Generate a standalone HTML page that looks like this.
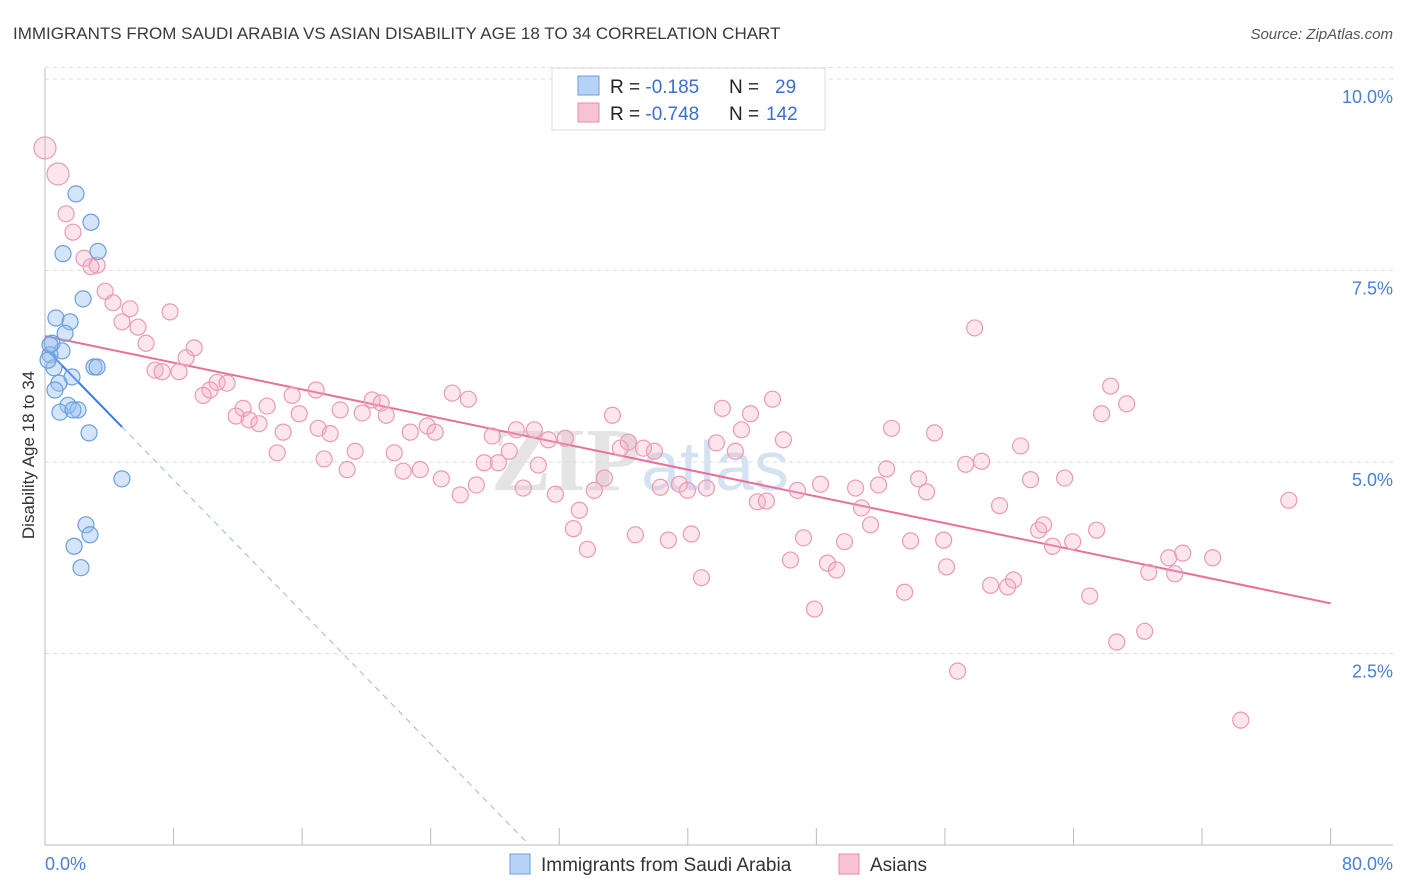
<!DOCTYPE html>
<html><head><meta charset="utf-8"><style>
body{margin:0;background:#fff;font-family:"Liberation Sans",sans-serif}
svg{display:block}
</style></head><body>
<svg id="chart" width="1406" height="892">
<text x="13" y="39" font-size="17" fill="#3a3a3a">IMMIGRANTS FROM SAUDI ARABIA VS ASIAN DISABILITY AGE 18 TO 34 CORRELATION CHART</text>
<text x="1393" y="39" font-size="15" fill="#555" font-style="italic" text-anchor="end">Source: ZipAtlas.com</text>
<text x="640" y="490" font-size="90" fill="#e4e4e4" font-family="Liberation Serif" font-weight="bold" text-anchor="middle">ZIP<tspan font-family="Liberation Sans" font-weight="normal" fill="#d4e2f2" font-size="70">atlas</tspan></text>
<g id="grid"></g><g id="axes"></g><g id="lines"></g><g id="pts"></g>
<text transform="translate(34,455) rotate(-90)" font-size="17" fill="#333" text-anchor="middle">Disability Age 18 to 34</text>
<text x="45" y="870" font-size="18" fill="#4a7fd4">0.0%</text>
<text x="1393" y="870" font-size="18" fill="#4a7fd4" text-anchor="end">80.0%</text>
<g>
<rect x="552" y="68" width="273" height="62" fill="#fff" stroke="#ddd"/>
<rect x="578" y="76" width="21" height="19" fill="#b6d2f4" stroke="#6a9fdc"/>
<rect x="578" y="103" width="21" height="19" fill="#f8c4d4" stroke="#e88aa8"/>
<text x="610" y="93" font-size="19" fill="#222">R = <tspan fill="#3a6fd0">-0.185</tspan><tspan x="729">N = </tspan><tspan x="775" fill="#3a6fd0">29</tspan></text>
<text x="610" y="120" font-size="19" fill="#222">R = <tspan fill="#3a6fd0">-0.748</tspan><tspan x="729">N = </tspan><tspan x="766" fill="#3a6fd0">142</tspan></text>
</g>
<g>
<rect x="510" y="854" width="20" height="20" fill="#b6d2f4" stroke="#6a9fdc"/>
<text x="541" y="871" font-size="19" fill="#333">Immigrants from Saudi Arabia</text>
<rect x="839" y="854" width="20" height="20" fill="#f8c4d4" stroke="#e88aa8"/>
<text x="870" y="871" font-size="19" fill="#333">Asians</text>
</g>
</svg>
<script>
const yTicks=[2.5,5.0,7.5,10.0];
const yTickLabels=["2.5%","5.0%","7.5%","10.0%"];
const xTicks=[0,8,16,24,32,40,48,56,64,72,80];
const blueX=[1.93,2.86,1.12,3.30,2.37,0.68,1.56,1.25,0.44,1.06,0.31,0.56,3.05,3.24,1.68,0.87,0.62,1.43,2.05,0.93,1.74,2.74,4.79,2.55,2.80,1.81,2.24,0.31,0.19];
const blueY=[8.50,8.13,7.72,7.75,7.13,6.88,6.83,6.68,6.55,6.45,6.40,6.23,6.24,6.24,6.11,6.03,5.94,5.74,5.68,5.65,5.68,5.38,4.78,4.18,4.05,3.90,3.62,6.53,6.33];
const pinkX=[0,0.81,1.31,1.74,2.43,3.24,2.86,3.74,4.23,5.29,7.78,4.79,5.79,6.29,9.28,8.78,6.85,7.29,8.34,10.71,11.33,10.27,9.84,15.38,16.87,20.36,20.92,25.34,26.34,12.33,13.82,11.89,12.70,13.32,15.82,18.37,19.74,21.23,17.00,14.82,17.75,22.73,23.79,24.28,27.83,29.33,30.45,31.32,32.38,35.31,42.15,43.90,45.27,43.34,14.45,17.37,19.30,18.80,21.73,22.29,23.35,24.66,25.84,26.84,27.33,28.21,28.89,29.76,30.70,31.76,33.25,32.88,33.75,34.18,34.81,35.80,36.30,37.24,37.92,36.74,38.79,40.22,38.29,39.48,39.98,41.16,41.78,42.96,40.85,44.33,44.89,45.95,46.82,47.20,46.39,47.88,48.69,49.25,49.75,48.26,50.44,50.81,51.37,51.87,52.37,52.68,53.49,53.86,54.36,54.86,55.35,55.92,56.10,56.79,57.29,58.28,57.85,58.84,59.40,59.90,60.27,60.71,61.33,61.83,62.14,62.70,63.45,63.95,65.01,65.44,65.75,66.31,67.31,66.69,68.43,68.68,69.93,70.30,70.80,72.66,74.41,77.40];
const pinkY=[9.10,8.76,8.24,8.00,7.66,7.57,7.55,7.23,7.08,7.00,6.96,6.83,6.76,6.55,6.49,6.36,6.20,6.18,6.18,6.04,6.03,5.94,5.87,5.87,5.94,5.81,5.77,5.90,5.82,5.70,5.73,5.60,5.55,5.50,5.63,5.68,5.64,5.61,5.44,5.39,5.37,5.39,5.47,5.39,5.34,5.42,5.42,5.29,5.31,5.61,5.70,5.63,5.82,5.42,5.12,5.04,5.14,4.90,5.12,4.88,4.90,4.78,4.57,4.70,4.99,4.99,5.14,4.66,4.96,4.58,4.37,4.13,3.86,4.63,4.79,5.18,5.26,5.18,5.14,4.05,3.98,4.06,4.67,4.71,4.63,4.66,5.25,5.14,3.49,4.48,4.49,5.29,4.63,4.01,3.72,3.08,3.68,3.59,3.96,4.71,4.66,4.40,4.18,4.70,4.91,5.44,3.30,3.97,4.78,4.61,5.38,3.98,3.63,2.27,4.97,5.01,6.75,3.39,4.43,3.37,3.46,5.21,4.77,4.11,4.18,3.90,4.79,3.96,3.25,4.11,5.63,5.99,5.76,2.65,2.79,3.56,3.75,3.54,3.81,3.75,1.63,4.50];
const NS='http://www.w3.org/2000/svg';
const X=v=>45+v*16.07, Y=v=>845-v*76.6;
function mk(tag,parent,at){const e=document.createElementNS(NS,tag);for(const k in at)e.setAttribute(k,at[k]);document.getElementById(parent).appendChild(e);return e;}
yTicks.forEach((t,i)=>{
 const l=mk('line','grid',{x1:45,x2:1393,y1:Y(t),y2:Y(t),stroke:'#ddd','stroke-dasharray':'4,4'});
 
 
 const tx=mk('text','grid',{x:1393,y:Y(t)+24,'font-size':18,fill:'#4a7fd4','text-anchor':'end'});
 tx.textContent=yTickLabels[i];
 
 
});
mk('line','grid',{x1:45,x2:1393,y1:Y(10.15),y2:Y(10.15),stroke:'#ddd','stroke-dasharray':'4,4'});
const ya=mk('line','axes',{x1:45,x2:45,y1:68,y2:845,stroke:'#bbb'});


const xa=mk('line','axes',{x1:45,x2:1393,y1:845,y2:845,stroke:'#bbb'});


xTicks.forEach(t=>{
 const l=mk('line','axes',{x1:X(t),x2:X(t),y1:828,y2:845,stroke:'#bbb'});
 
 
});
function fit(xs,ys){const n=xs.length;let mx=0,my=0;for(let i=0;i<n;i++){mx+=xs[i];my+=ys[i];}mx/=n;my/=n;let sxy=0,sxx=0;for(let i=0;i<n;i++){sxy+=(xs[i]-mx)*(ys[i]-my);sxx+=(xs[i]-mx)**2;}const b=sxy/sxx;return [my-b*mx,b];}
function pts(xs,ys,fill,stroke,name){xs.forEach((x,i)=>{
 const r=(name==='asians-point'&&i<2)?11:8;
 const c=mk('circle','pts',{cx:X(x),cy:Y(ys[i]),r:r,fill:fill,stroke:stroke,'stroke-width':1.2});
 
 
});}
pts(pinkX,pinkY,'rgba(244,170,196,0.3)','#eb9ab4','asians-point');
pts(blueX,blueY,'rgba(150,190,240,0.4)','#6a9fdc','saudi-point');
const [pa,pb]=fit(pinkX,pinkY);
const pl=mk('line','lines',{x1:X(0),y1:Y(pa),x2:X(80),y2:Y(pa+pb*80),stroke:'#e8709a','stroke-width':2});


const [ba,bb]=fit(blueX,blueY);
const bmax=Math.max(...blueX);
const bl=mk('line','lines',{x1:X(0),y1:Y(ba),x2:X(bmax),y2:Y(ba+bb*bmax),stroke:'#3a7ad8','stroke-width':2});


const xz=bb<0?Math.min(-ba/bb,80):80;
const bd=mk('line','lines',{x1:X(bmax),y1:Y(ba+bb*bmax),x2:X(xz),y2:Y(ba+bb*xz),stroke:'#9ab8e0','stroke-width':1,'stroke-dasharray':'6,5'});


</script>
</body></html>
